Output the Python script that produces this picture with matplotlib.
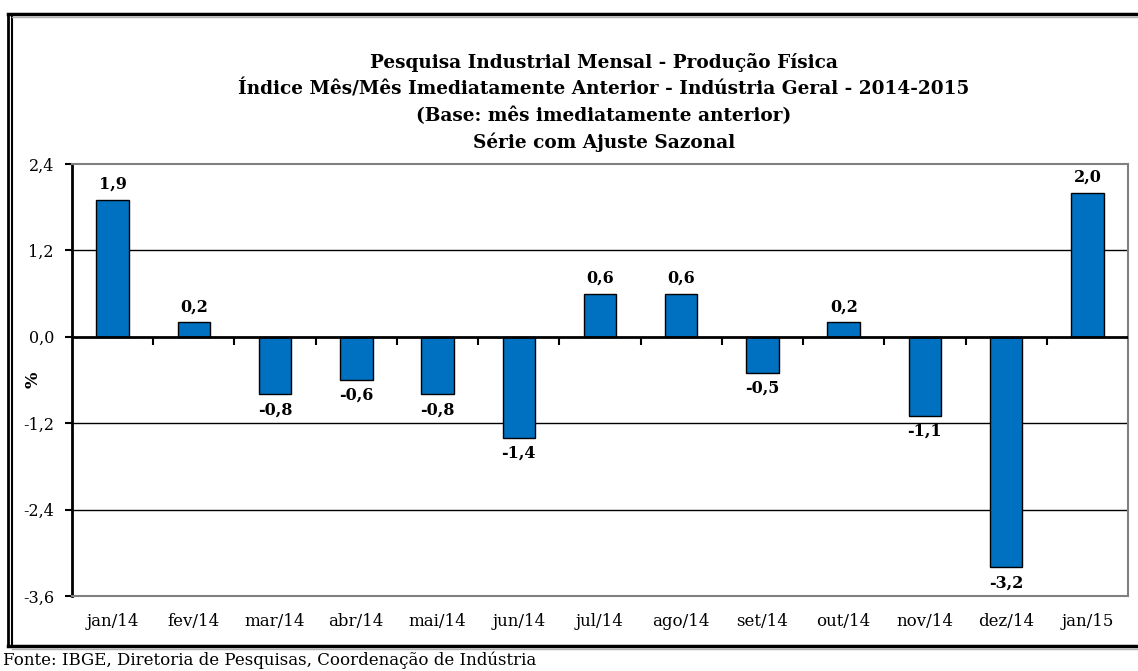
import numpy as np
import matplotlib.pyplot as plt
from matplotlib.lines import Line2D

# DATA
months = ["jan/14", "fev/14", "mar/14", "abr/14", "mai/14", "jun/14", "jul/14",
          "ago/14", "set/14", "out/14", "nov/14", "dez/14", "jan/15"]
values = [1.9, 0.2, -0.8, -0.6, -0.8, -1.4, 0.6, 0.6, -0.5, 0.2, -1.1, -3.2, 2.0]
y_ticks = [-3.6, -2.4, -1.2, 0.0, 1.2, 2.4]

title_lines = [
    "Pesquisa Industrial Mensal - Produção Física",
    "Índice Mês/Mês Imediatamente Anterior - Indústria Geral - 2014-2015",
    "(Base: mês imediatamente anterior)",
    "Série com Ajuste Sazonal",
]
source = "Fonte: IBGE, Diretoria de Pesquisas, Coordenação de Indústria"

FONT = "DejaVu Serif"
BAR_COLOR = "#0070C0"
W, H = 1138, 671

plt.rcParams["font.family"] = FONT

fig = plt.figure(figsize=(W / 100, H / 100), dpi=100)

# --- axes placement (pixels -> figure fractions) ---
left, right, top, bottom = 72, 1128, 164, 596
ax = fig.add_axes([left / W, 1 - bottom / H, (right - left) / W, (bottom - top) / H])

x = np.arange(len(months))
ax.bar(x, values, width=0.4, color=BAR_COLOR, edgecolor="black", linewidth=1, zorder=3)

ax.set_xlim(-0.5, len(months) - 0.5)
ax.set_ylim(-3.6, 2.4)
ax.set_yticks(y_ticks)
ax.set_yticklabels([f"{v:.1f}".replace(".", ",") for v in y_ticks], fontsize=11.5)
ax.set_xticks(x)
ax.set_xticklabels(months, fontsize=12)
ax.tick_params(axis="x", length=0, pad=12)
ax.tick_params(axis="y", length=5, width=1.5, direction="out", pad=8)

ax.set_ylabel("%", fontsize=12.5, fontweight="bold")
ax.yaxis.set_label_coords((42 - left) / (right - left), (bottom - 380) / (bottom - top))

# gridlines
for v in y_ticks[1:-1]:
    if v != 0:
        ax.axhline(v, color="black", lw=1, zorder=1)
ax.axhline(0, color="black", lw=2, zorder=4)

for s in ["top", "right", "bottom"]:
    ax.spines[s].set_color("#808080")
    ax.spines[s].set_linewidth(1.5)
ax.spines["left"].set_color("black")
ax.spines["left"].set_linewidth(2)

# small ticks on the zero line between categories
bounds = np.arange(len(months) + 1)[1:-1] - 0.5
ax.plot(bounds, np.zeros_like(bounds), linestyle="none", marker=3,
        markersize=6, markeredgewidth=1.5, color="black", zorder=4, clip_on=False)

# value labels
for xi, v in zip(x, values):
    lbl = f"{v:.1f}".replace(".", ",")
    off = 5 if v >= 0 else -5
    ax.annotate(lbl, (xi, v), xytext=(0, off), textcoords="offset points",
                ha="center", va="bottom" if v >= 0 else "top",
                fontsize=11.5, fontweight="bold", zorder=5)

# title
for i, line in enumerate(title_lines):
    fig.text(604 / W, 1 - (63 + i * 26.5) / H, line, ha="center", va="center",
             fontsize=13.3, fontweight="bold")

# outer frame
frame = [
    ([8 / W, 1], [1 - 14 / H] * 2, 2.5),
    ([8 / W] * 2, [1 - 14 / H, 1 - 646 / H], 2),
    ([12 / W] * 2, [1 - 16 / H, 1 - 644 / H], 1.5),
    ([8 / W, 1], [1 - 646 / H] * 2, 2.5),
]
for xs, ys, lw in frame:
    fig.add_artist(Line2D(xs, ys, color="black", lw=lw, transform=fig.transFigure))
fig.add_artist(Line2D([12 / W, 1], [1 - 17 / H] * 2, color="#b0b0b0", lw=1,
                      transform=fig.transFigure))
fig.add_artist(Line2D([12 / W, 1], [1 - 649 / H] * 2, color="#b0b0b0", lw=1,
                      transform=fig.transFigure))

fig.text(3 / W, 1 - 660 / H, source, ha="left", va="center", fontsize=12)

fig.savefig("out.png", dpi=100)
